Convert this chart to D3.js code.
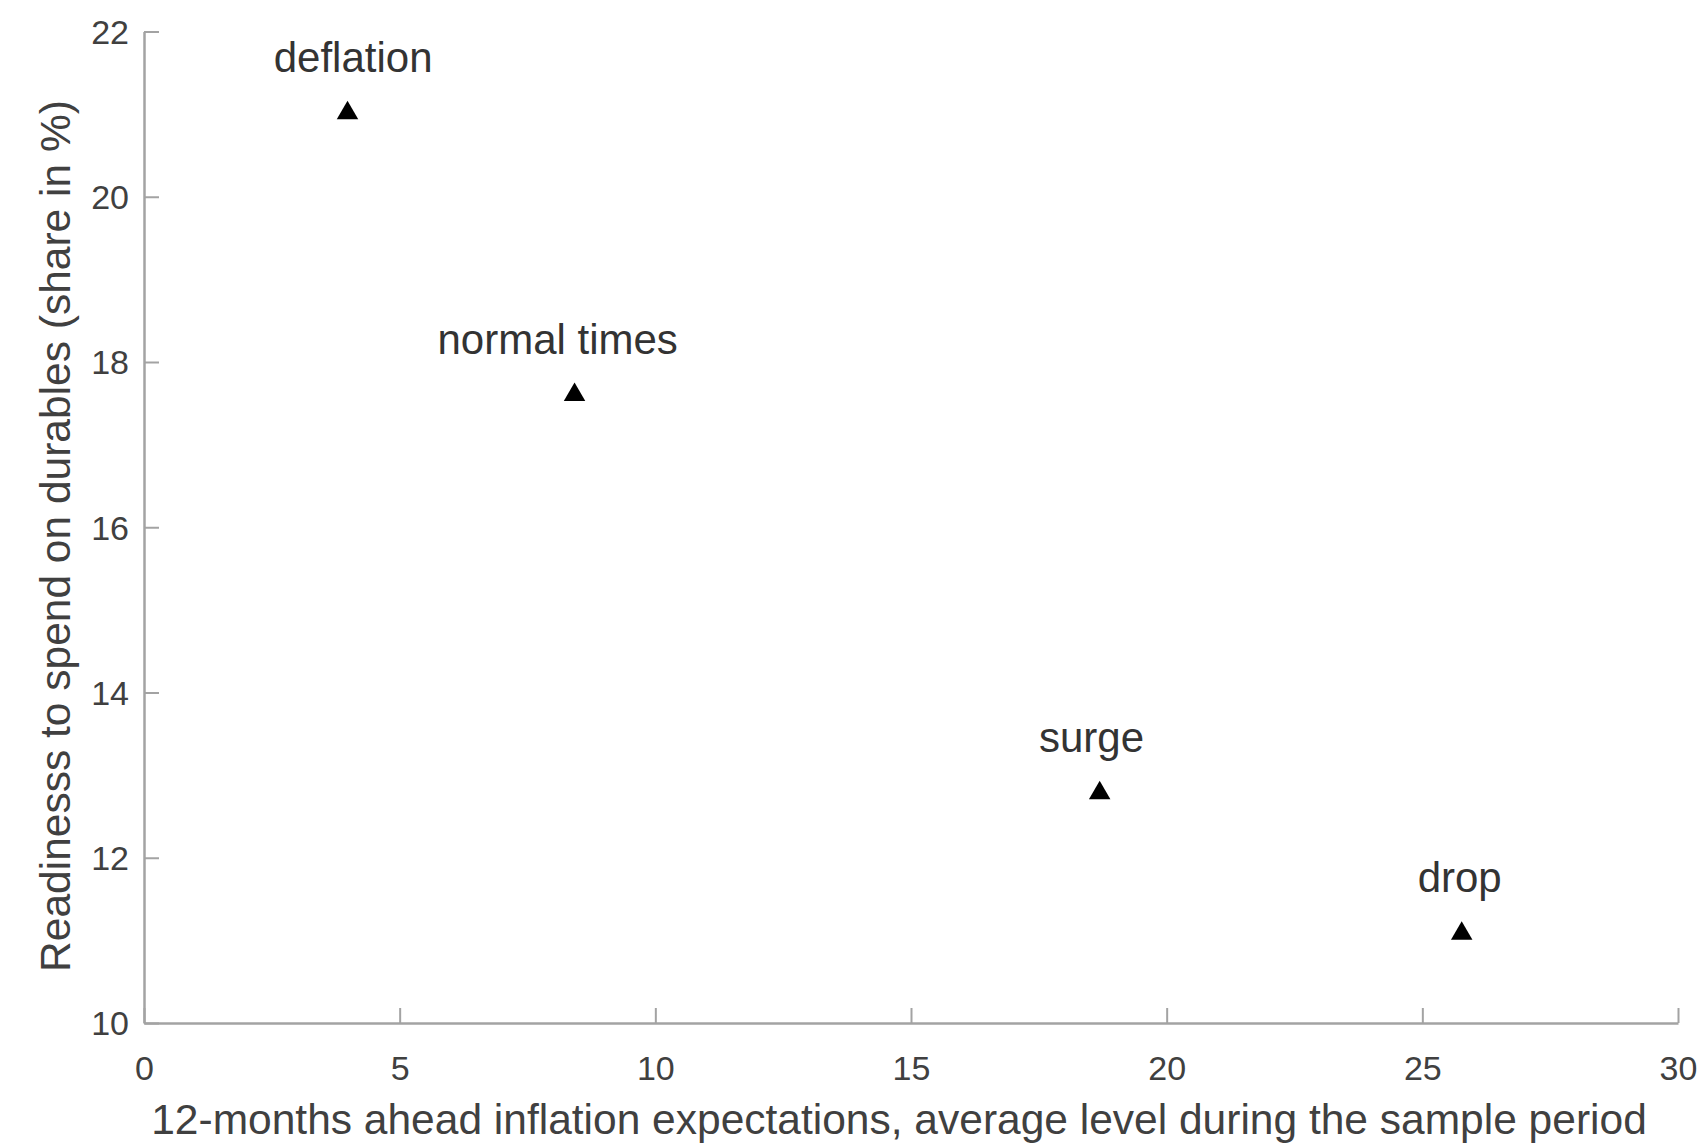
<!DOCTYPE html>
<html>
<head>
<meta charset="utf-8">
<script src="https://cdn.jsdelivr.net/npm/d3@7"></script>
<style>
  html, body { margin: 0; padding: 0; background: #fff; }
  svg { display: block; }
  text { font-family: "Liberation Sans", Arial, Helvetica, sans-serif; }
</style>
</head>
<body>
<svg id="chart" width="1701" height="1146"></svg>
<script>
// ---- data ----
const categories = ["deflation", "normal times", "surge", "drop"];
const inflationExpectations = [3.98, 8.42, 18.69, 25.77];
const readinessShare = [21.03, 17.62, 12.80, 11.10];
const labelX = [4.09, 8.09, 18.53, 25.73];
const xTicks = [0, 5, 10, 15, 20, 25, 30];
const yTicks = [10, 12, 14, 16, 18, 20, 22];
const xTitle = "12-months ahead inflation expectations, average level during the sample period";
const yTitle = "Readinesss to spend on durables (share in %)";

// ---- layout ----
const W = 1701, H = 1146;
const margin = { left: 144, right: 23, top: 31.5, bottom: 123 };
const svg = d3.select("#chart");

const x = d3.scaleLinear().domain([0, 30]).range([margin.left, W - margin.right]);
const y = d3.scaleLinear().domain([10, 22]).range([H - margin.bottom, margin.top]);

const axisColor = "#a3a3a3";
const textColor = "#404040";

// x axis (ticks inward)
const gx = svg.append("g")
  .attr("transform", `translate(0,${y(10)})`)
  .call(d3.axisBottom(x).tickValues(xTicks).tickSizeInner(-15).tickSizeOuter(0).tickPadding(0).tickFormat(d3.format("d")));
gx.select(".domain").attr("stroke", axisColor).attr("stroke-width", 2.5);
gx.selectAll(".tick line").attr("stroke", axisColor).attr("stroke-width", 2);
gx.selectAll(".tick text")
  .attr("fill", textColor)
  .attr("font-size", 34)
  .attr("dy", null)
  .attr("y", 1080 - y(10));

// y axis (ticks inward)
const gy = svg.append("g")
  .attr("transform", `translate(${x(0)},0)`)
  .call(d3.axisLeft(y).tickValues(yTicks).tickSizeInner(-15).tickSizeOuter(0).tickPadding(0).tickFormat(d3.format("d")));
gy.select(".domain").attr("stroke", axisColor).attr("stroke-width", 2.5);
gy.selectAll(".tick line").attr("stroke", axisColor).attr("stroke-width", 2);
gy.selectAll(".tick text")
  .attr("fill", textColor)
  .attr("font-size", 34)
  .attr("x", -15)
  .attr("dy", "0.35em");

// axis titles
svg.append("text")
  .attr("x", 899)
  .attr("y", 1134)
  .attr("text-anchor", "middle")
  .attr("font-size", 42.5)
  .attr("fill", textColor)
  .text(xTitle);

svg.append("text")
  .attr("transform", `translate(70,536) rotate(-90)`)
  .attr("text-anchor", "middle")
  .attr("font-size", 42.5)
  .attr("fill", textColor)
  .text(yTitle);

// points
const pts = categories.map((c, i) => ({ c, x: inflationExpectations[i], y: readinessShare[i], lx: labelX[i] }));
const tri = d3.symbol().type(d3.symbolTriangle).size(200);

svg.append("g").selectAll("path")
  .data(pts).join("path")
  .attr("d", tri)
  .attr("transform", d => `translate(${x(d.x)},${y(d.y) + 1.5})`)
  .attr("fill", "#000");

svg.append("g").selectAll("text")
  .data(pts).join("text")
  .attr("x", d => x(d.lx))
  .attr("y", d => y(d.y + 0.48))
  .attr("text-anchor", "middle")
  .attr("font-size", 42)
  .attr("fill", "#333")
  .text(d => d.c);
</script>
</body>
</html>
